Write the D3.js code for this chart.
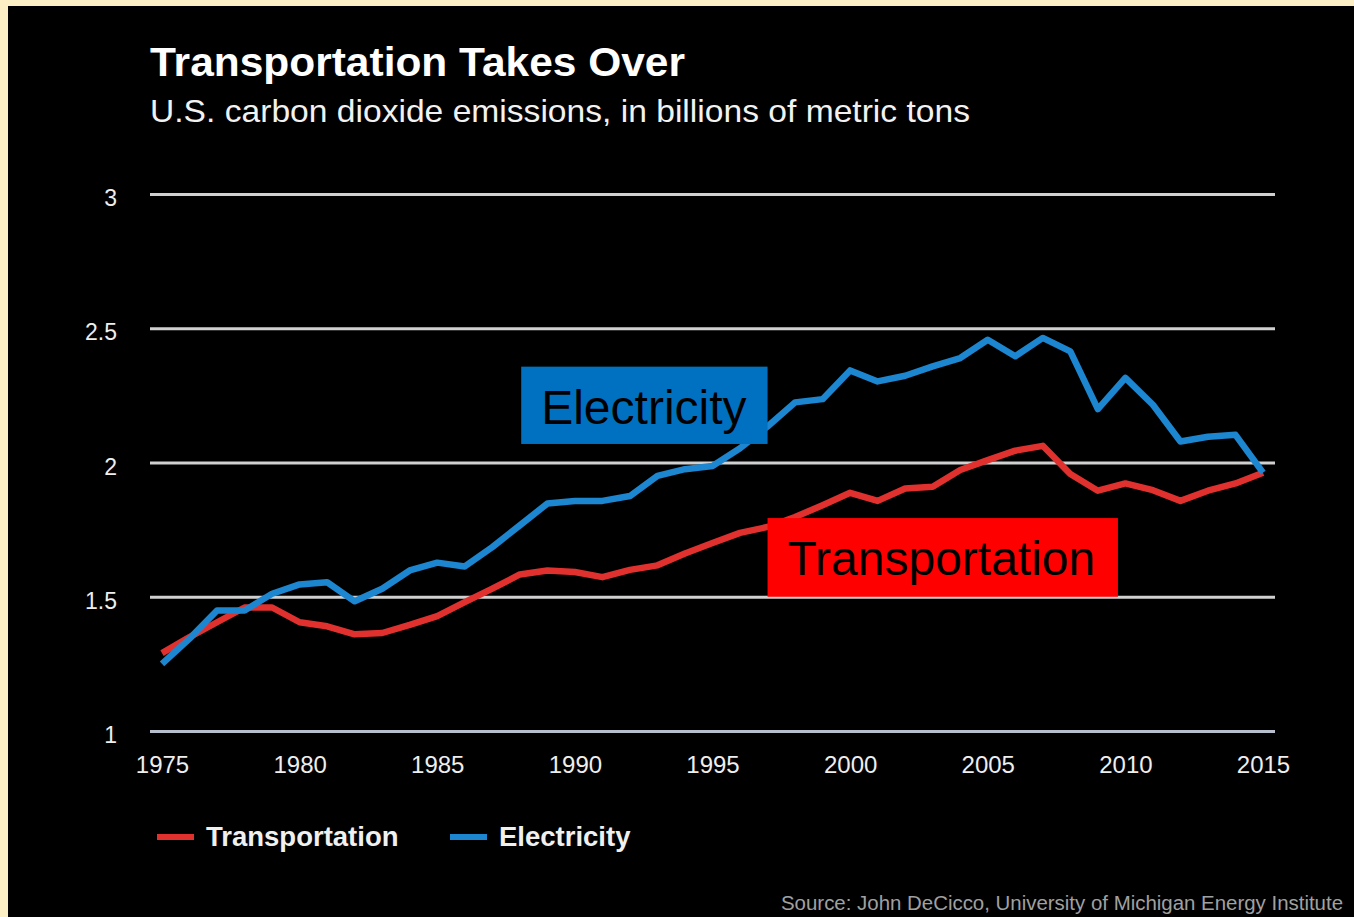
<!DOCTYPE html>
<html>
<head>
<meta charset="utf-8">
<script src="https://cdn.jsdelivr.net/npm/d3@7"></script>
<style>
  body { margin: 0; background: #fcefc6; }
  svg { display: block; font-family: "Liberation Sans", Arial, sans-serif; }
</style>
</head>
<body>
<svg></svg>
<script>
// SVG
var width = 1354;
var height = 917;

// Data (billions of metric tons)
var years = [1975, 1976, 1977, 1978, 1979, 1980, 1981, 1982, 1983, 1984,
             1985, 1986, 1987, 1988, 1989, 1990, 1991, 1992, 1993, 1994,
             1995, 1996, 1997, 1998, 1999, 2000, 2001, 2002, 2003, 2004,
             2005, 2006, 2007, 2008, 2009, 2010, 2011, 2012, 2013, 2014, 2015];

var transportation = [1.29, 1.35, 1.405, 1.46, 1.46, 1.405, 1.39, 1.36, 1.365, 1.395,
                      1.428, 1.48, 1.53, 1.583, 1.598, 1.592, 1.573, 1.60, 1.617, 1.661,
                      1.70, 1.738, 1.76, 1.797, 1.841, 1.887, 1.857, 1.903, 1.91, 1.972,
                      2.009, 2.044, 2.062, 1.957, 1.895, 1.922, 1.897, 1.857, 1.895, 1.922, 1.962];

var electricity = [1.25, 1.344, 1.449, 1.449, 1.511, 1.546, 1.554, 1.483, 1.53, 1.598,
                   1.627, 1.613, 1.685, 1.766, 1.847, 1.857, 1.857, 1.875, 1.95, 1.975,
                   1.987, 2.053, 2.134, 2.224, 2.236, 2.343, 2.302, 2.323, 2.358, 2.389,
                   2.457, 2.396, 2.464, 2.414, 2.199, 2.315, 2.215, 2.078, 2.096, 2.103, 1.962];

var yTicks = [1, 1.5, 2, 2.5, 3];
var xTicks = [1975, 1980, 1985, 1990, 1995, 2000, 2005, 2010, 2015];

var seriesNames = ["Transportation", "Electricity"];
var seriesColors = ["#e0312f", "#1d86d0"];

// annotation boxes, corners in data units
var labelBoxes = [
  { name: "Electricity", x0: 1988.05, x1: 1997.0, y0: 2.357, y1: 2.069, fill: "#0070c0" },
  { name: "Transportation", x0: 1997.0, x1: 2009.73, y0: 1.793, y1: 1.50, fill: "#ff0000" }
];

// Scales
var xScale = d3.scaleLinear()
    .domain([1975, 2015])
    .range([162, 1263]);

var yScale = d3.scaleLinear()
    .domain([1, 3])
    .range([731, 194]);

var svg = d3.select("svg")
    .attr("width", width)
    .attr("height", height);

// black panel
svg.append("rect")
    .attr("x", 8)
    .attr("y", 6)
    .attr("width", width - 8)
    .attr("height", height - 6)
    .attr("fill", "#000");

// Title
svg.append("text")
    .attr("x", 150)
    .attr("y", 76)
    .attr("fill", "#fff")
    .attr("font-size", 40)
    .attr("font-weight", "bold")
    .attr("textLength", 535)
    .attr("lengthAdjust", "spacingAndGlyphs")
    .text("Transportation Takes Over");

svg.append("text")
    .attr("x", 150)
    .attr("y", 122)
    .attr("fill", "#f2f2f2")
    .attr("font-size", 32)
    .attr("textLength", 820)
    .attr("lengthAdjust", "spacingAndGlyphs")
    .text("U.S. carbon dioxide emissions, in billions of metric tons");

// Gridlines (y axis)
var yAxis = d3.axisLeft(yScale)
    .tickValues(yTicks)
    .tickFormat(d3.format(""))
    .tickSize(-(1275 - 150))
    .tickPadding(33);

var yG = svg.append("g")
    .attr("transform", "translate(150,0)")
    .call(yAxis);

yG.select(".domain").remove();
yG.selectAll("line")
    .attr("stroke", d => d === 1 ? "#b7bfcc" : "#d0d0d0")
    .attr("stroke-width", 3);
yG.selectAll("text")
    .attr("fill", "#eee")
    .attr("font-size", 23)
    .attr("font-family", "Liberation Sans, Arial, sans-serif")
    .attr("dy", "0.5em");

// x axis labels
var xAxis = d3.axisBottom(xScale)
    .tickValues(xTicks)
    .tickFormat(d3.format("d"))
    .tickSize(0)
    .tickPadding(25);

var xG = svg.append("g")
    .attr("transform", "translate(0,731)")
    .call(xAxis);

xG.select(".domain").remove();
xG.selectAll("text")
    .attr("fill", "#eee")
    .attr("font-size", 24)
    .attr("font-family", "Liberation Sans, Arial, sans-serif");

// Lines
var line = d3.line()
    .x((d, i) => xScale(years[i]))
    .y(d => yScale(d));

[transportation, electricity].forEach(function(values, i) {
    svg.append("path")
        .attr("fill", "none")
        .attr("stroke", seriesColors[i])
        .attr("stroke-width", 6.5)
        .attr("stroke-linejoin", "round")
        .attr("d", line(values));
});

// Annotation boxes
labelBoxes.forEach(function(b) {
    var x0 = xScale(b.x0), x1 = xScale(b.x1);
    var y0 = yScale(b.y0), y1 = yScale(b.y1);
    svg.append("rect")
        .attr("x", x0)
        .attr("y", y0)
        .attr("width", x1 - x0)
        .attr("height", y1 - y0)
        .attr("fill", b.fill);
    svg.append("text")
        .attr("x", x0 + 20)
        .attr("y", y0 + 57)
        .attr("fill", "#000")
        .attr("font-size", 48)
        .text(b.name);
});

// Legend
var legend = svg.append("g");
var legendX = [157, 450];
seriesNames.forEach(function(name, i) {
    legend.append("line")
        .attr("x1", legendX[i])
        .attr("x2", legendX[i] + 37)
        .attr("y1", 837)
        .attr("y2", 837)
        .attr("stroke", seriesColors[i])
        .attr("stroke-width", 6);
    legend.append("text")
        .attr("x", legendX[i] + 49)
        .attr("y", 846)
        .attr("fill", "#f0f0f0")
        .attr("font-size", 27.5)
        .attr("font-weight", "bold")
        .text(name);
});

// Source
svg.append("text")
    .attr("x", 1343)
    .attr("y", 910)
    .attr("text-anchor", "end")
    .attr("fill", "#a0a0a0")
    .attr("font-size", 20)
    .attr("textLength", 562)
    .attr("lengthAdjust", "spacingAndGlyphs")
    .text("Source: John DeCicco, University of Michigan Energy Institute");
</script>
</body>
</html>
